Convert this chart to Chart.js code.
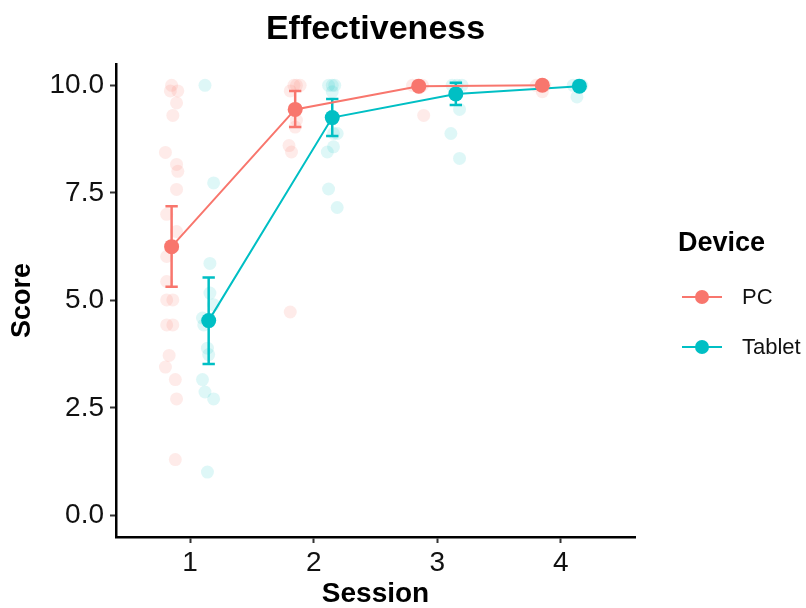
<!DOCTYPE html>
<html>
<head>
<meta charset="utf-8">
<title>Effectiveness</title>
<script src="https://cdn.jsdelivr.net/npm/chart.js@4.4.0/dist/chart.umd.min.js"></script>
<style>
    html, body { margin: 0; padding: 0; background: #fff; }
</style>
</head>
<body>
<canvas id="effectivenessChart" width="806" height="608"></canvas>
<script>
"use strict";

const sessions = [1, 2, 3, 4];
const scoreTicks = [0, 2.5, 5, 7.5, 10];
const devices = ['PC', 'Tablet'];
const deviceColours = ['#F8766D', '#00BFC4'];
const deviceFaded = ['rgba(248,118,109,0.15)', 'rgba(0,191,196,0.13)'];
const dodge = [-0.15, 0.15];

// means and error bar limits per session
const pcMean = [6.25, 9.44, 9.98, 10.0];
const pcLow = [5.32, 9.03, 9.94, 9.99];
const pcHigh = [7.19, 9.87, 10.02, 10.01];
const tabletMean = [4.53, 9.25, 9.80, 9.98];
const tabletLow = [3.52, 8.82, 9.54, 9.94];
const tabletHigh = [5.53, 9.68, 10.06, 10.02];

// individual scores, with their jittered session position
const pcJitterX = [0.85, 0.84, 0.90, 0.89, 0.86, 0.80, 0.89, 0.90, 0.89, 0.81, 0.89, 0.81,
    0.81, 0.81, 0.86, 0.81, 0.86, 0.83, 0.80, 0.88, 0.89, 0.88,
    1.84, 1.89, 1.86, 1.81, 1.86, 1.85, 1.80, 1.82, 1.81,
    2.80, 2.84, 2.88, 2.86, 2.89,
    3.80, 3.84, 3.87, 3.85];
const pcScores = [10.0, 9.87, 9.87, 9.59, 9.30, 8.44, 8.16, 8.0, 7.58, 7.0, 6.6, 6.02,
    5.44, 5.01, 5.01, 4.43, 4.43, 3.72, 3.45, 3.16, 2.71, 1.30,
    10.0, 10.0, 10.0, 9.87, 9.19, 9.03, 8.6, 8.45, 4.73,
    10.0, 10.0, 10.0, 9.95, 9.30,
    10.0, 10.0, 10.0, 9.85];
const tabletJitterX = [1.12, 1.19, 1.16, 1.16, 1.19, 1.10, 1.11, 1.14, 1.15, 1.10, 1.12, 1.19, 1.14,
    2.15, 2.17, 2.12, 2.15, 2.16, 2.19, 2.11, 2.16, 2.12, 2.19,
    3.12, 3.16, 3.20, 3.18, 3.11, 3.18,
    4.10, 4.14, 4.17, 4.13];
const tabletScores = [10.0, 7.73, 5.86, 5.17, 4.9, 4.59, 4.43, 3.89, 3.74, 3.16, 2.87, 2.71, 1.01,
    10.0, 10.0, 10.0, 9.85, 8.88, 8.88, 8.45, 8.57, 7.59, 7.16,
    10.0, 10.0, 10.0, 9.44, 8.88, 8.30,
    10.0, 10.0, 10.0, 9.73];

const FONT = '"Liberation Sans", Arial, Helvetica, sans-serif';
const CAP_HALF = 0.05;

const toPoints = (xs, ys) => xs.map((x, i) => ({x: x, y: ys[i]}));

const meanPoints = (mean, offset) => sessions.map((s, i) => ({x: s + offset, y: mean[i]}));

// one broken line per device: stem, top cap, bottom cap for each session
const errorBarPoints = (low, high, offset) => {
    const pts = [];
    sessions.forEach((s, i) => {
        const x = s + offset;
        pts.push({x: x, y: low[i]}, {x: x, y: high[i]}, {x: x, y: null});
        pts.push({x: x - CAP_HALF, y: high[i]}, {x: x + CAP_HALF, y: high[i]}, {x: x, y: null});
        pts.push({x: x - CAP_HALF, y: low[i]}, {x: x + CAP_HALF, y: low[i]}, {x: x, y: null});
    });
    return pts;
};

const deviceLegend = {
    id: 'deviceLegend',
    afterDraw: (chart) => {
        const ctx = chart.ctx;
        ctx.save();
        ctx.textAlign = 'left';
        ctx.textBaseline = 'middle';
        ctx.fillStyle = '#000';
        ctx.font = 'bold 27px ' + FONT;
        ctx.fillText('Device', 678, 244);
        ctx.font = '22px ' + FONT;
        devices.forEach((name, i) => {
            const y = 297 + i * 50;
            ctx.strokeStyle = deviceColours[i];
            ctx.lineWidth = 2;
            ctx.beginPath();
            ctx.moveTo(682, y);
            ctx.lineTo(722, y);
            ctx.stroke();
            ctx.fillStyle = deviceColours[i];
            ctx.beginPath();
            ctx.arc(702, y, 7, 0, Math.PI * 2);
            ctx.fill();
            ctx.fillStyle = '#111';
            ctx.fillText(name, 742, y + 1);
        });
        ctx.restore();
    }
};

const axisGrid = {
    drawOnChartArea: false,
    drawTicks: true,
    tickLength: 6,
    tickWidth: 2,
    tickColor: '#333'
};
const axisBorder = {display: true, color: '#000', width: 2.5};

new Chart(document.getElementById('effectivenessChart'), {
    type: 'scatter',
    data: {
        datasets: [
            {
                type: 'line',
                label: 'PC',
                data: meanPoints(pcMean, dodge[0]),
                borderColor: deviceColours[0],
                backgroundColor: deviceColours[0],
                borderWidth: 2,
                pointRadius: 7.5,
                pointBorderWidth: 0,
                order: 0
            },
            {
                type: 'line',
                label: 'Tablet',
                data: meanPoints(tabletMean, dodge[1]),
                borderColor: deviceColours[1],
                backgroundColor: deviceColours[1],
                borderWidth: 2,
                pointRadius: 7.5,
                pointBorderWidth: 0,
                order: 0
            },
            {
                type: 'line',
                label: 'PC error',
                data: errorBarPoints(pcLow, pcHigh, dodge[0]),
                borderColor: deviceColours[0],
                borderWidth: 2.5,
                pointRadius: 0,
                spanGaps: false,
                order: 1
            },
            {
                type: 'line',
                label: 'Tablet error',
                data: errorBarPoints(tabletLow, tabletHigh, dodge[1]),
                borderColor: deviceColours[1],
                borderWidth: 2.5,
                pointRadius: 0,
                spanGaps: false,
                order: 1
            },
            {
                label: 'PC raw',
                data: toPoints(pcJitterX, pcScores),
                backgroundColor: deviceFaded[0],
                borderWidth: 0,
                pointRadius: 6.5,
                order: 2
            },
            {
                label: 'Tablet raw',
                data: toPoints(tabletJitterX, tabletScores),
                backgroundColor: deviceFaded[1],
                borderWidth: 0,
                pointRadius: 6.5,
                order: 2
            }
        ]
    },
    options: {
        responsive: false,
        animation: false,
        events: [],
        layout: {
            padding: {left: 0, right: 171, top: 0, bottom: 0}
        },
        plugins: {
            legend: {display: false},
            tooltip: {enabled: false},
            title: {
                display: true,
                fullSize: false,
                text: 'Effectiveness',
                color: '#000',
                font: {family: FONT, size: 34, weight: 'bold'},
                padding: {top: 9, bottom: 14}
            }
        },
        scales: {
            x: {
                type: 'linear',
                min: 0.4,
                max: 4.6,
                afterBuildTicks: (scale) => {
                    scale.ticks = sessions.map(v => ({value: v}));
                },
                afterFit: (scale) => {
                    scale.height = 71;
                },
                ticks: {
                    color: '#111',
                    padding: 3,
                    font: {family: FONT, size: 28},
                    callback: (v) => String(v)
                },
                grid: axisGrid,
                border: axisBorder,
                title: {
                    display: true,
                    text: 'Session',
                    color: '#000',
                    font: {family: FONT, size: 28, weight: 'bold', lineHeight: 1},
                    padding: {top: 0, bottom: 0}
                }
            },
            y: {
                type: 'linear',
                min: -0.5,
                max: 10.5,
                afterBuildTicks: (scale) => {
                    scale.ticks = scoreTicks.map(v => ({value: v}));
                },
                afterFit: (scale) => {
                    scale.width = 116;
                },
                ticks: {
                    color: '#111',
                    padding: 6,
                    font: {family: FONT, size: 28},
                    callback: (v) => Number(v).toFixed(1)
                },
                grid: axisGrid,
                border: axisBorder,
                title: {
                    display: true,
                    text: 'Score',
                    color: '#000',
                    font: {family: FONT, size: 27, weight: 'bold', lineHeight: 1},
                    padding: {top: 9, bottom: 0}
                }
            }
        }
    },
    plugins: [deviceLegend]
});
</script>
</body>
</html>
